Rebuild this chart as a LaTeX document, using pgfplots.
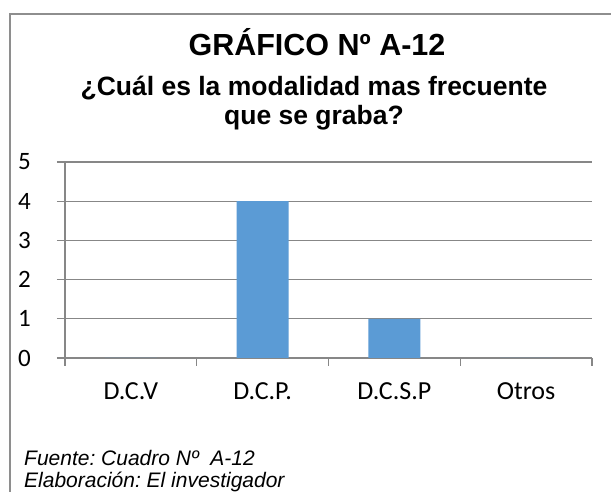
\documentclass[border=0pt]{standalone}
\usepackage{fontspec}
\setmainfont{Carlito}
\newfontfamily\arial{Liberation Sans}
\usepackage{pgfplots}
\pgfplotsset{compat=1.18}
\definecolor{barblue}{HTML}{5B9BD5}
\definecolor{gridgray}{HTML}{878787}
\definecolor{framegray}{HTML}{8E8E8E}
\frenchspacing
\begin{document}
\begin{tikzpicture}[x=1pt,y=1pt]
\useasboundingbox (0,0) rectangle (611,492);
\fill[white] (0,0) rectangle (611,492);
\draw[framegray, line width=1.2pt] (10,-2) -- (10,478) -- (613,478);
\node[anchor=base, inner sep=0] at (317,436) {\arial\bfseries\fontsize{30.5}{36}\selectfont GRÁFICO Nº A-12};
\node[anchor=base, inner sep=0] at (314,396) {\arial\bfseries\fontsize{26.5}{30}\selectfont ¿Cuál es la modalidad mas frecuente};
\node[anchor=base, inner sep=0] at (314,367) {\arial\bfseries\fontsize{26.5}{30}\selectfont que se graba?};
\node[anchor=base west, inner sep=0] at (24,26) {\arial\itshape\fontsize{21}{24}\selectfont Fuente: Cuadro Nº~~A-12};
\node[anchor=base west, inner sep=0] at (24,4) {\arial\itshape\fontsize{21}{24}\selectfont Elaboración: El investigador};
\begin{axis}[
  at={(65pt,134pt)}, anchor=south west,
  scale only axis, width=527pt, height=196pt,
  xmin=-0.5, xmax=3.5, ymin=0, ymax=5,
  axis x line*=bottom, axis y line*=left,
  ybar, bar width=52pt,
  xtick={-0.5,0.5,1.5,2.5,3.5}, xticklabels={,,,,},
  extra x ticks={0,1,2,3},
  extra x tick labels={D.C.V, D.C.P., D.C.S.P, Otros},
  extra x tick style={tickwidth=0pt, grid=none},
  ytick={0,1,2,3,4,5},
  tick align=outside, tickwidth=8pt,
  ymajorgrids, grid style={gridgray, line width=1.2pt},
  axis line style={gridgray, line width=1.2pt},
  tick style={gridgray, line width=1.2pt},
  tick label style={font=\fontsize{25}{30}\selectfont},
  /pgf/number format/assume math mode=true,
  xticklabel style={anchor=base, yshift=-42pt, font=\fontsize{26}{30}\selectfont},
  yticklabel style={anchor=east, inner sep=0pt, xshift=-26pt},
]
\addplot[fill=barblue, draw=none] coordinates {(0,0) (1,4) (2,1) (3,0)};
\end{axis}
\end{tikzpicture}
\end{document}
